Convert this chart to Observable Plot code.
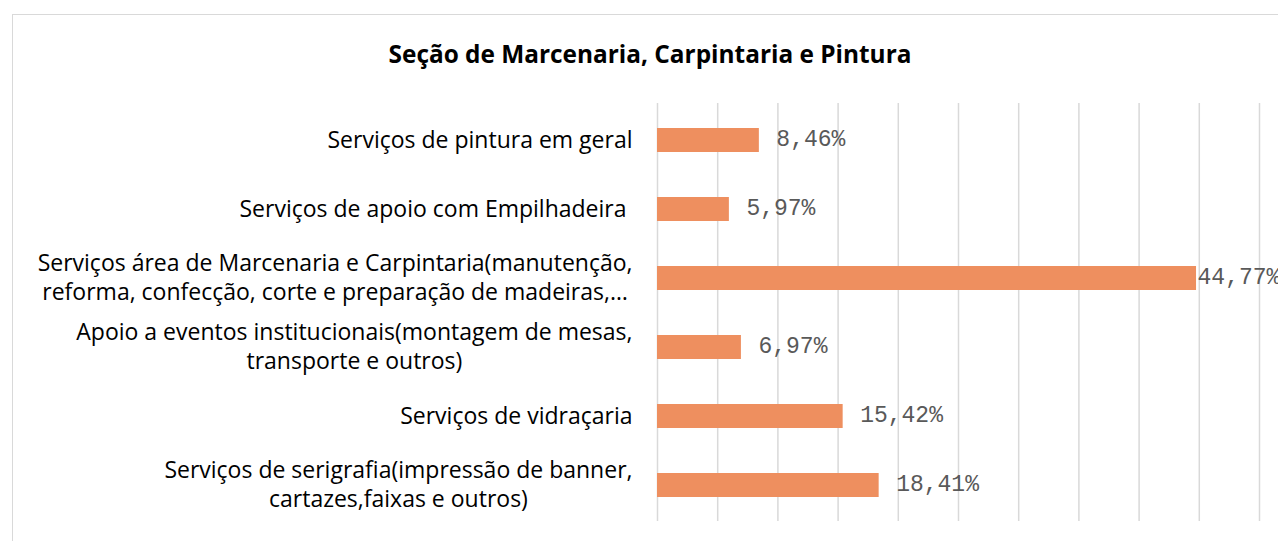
<!DOCTYPE html>
<html>
<head>
<meta charset="utf-8">
<script src="https://cdn.jsdelivr.net/npm/d3@7"></script>
<script src="https://cdn.jsdelivr.net/npm/@observablehq/plot@0.6"></script>
<style>
  html, body { margin: 0; padding: 0; background: #fff; overflow: hidden; }
  #frame { position: absolute; left: 12px; top: 14px; width: 1300px; height: 600px; border: 1px solid #d9d9d9; box-sizing: border-box; }
  #title { position: absolute; left: 0; top: 39px; width: 1300px; height: 30px; line-height: 30px; text-align: center;
           font-family: "Open Sans", Lato, sans-serif; font-weight: bold; font-size: 24.4px; color: #000; }
  #chart { position: absolute; left: 13px; top: 90px; }
  #chart svg { overflow: visible; }
</style>
</head>
<body>
<div id="frame"></div>
<div id="title">Seção de Marcenaria, Carpintaria e Pintura</div>
<div id="chart"></div>
<script>
const categories = [
  "Serviços de pintura em geral",
  "Serviços de apoio com Empilhadeira ",
  "Serviços área de Marcenaria e Carpintaria(manutenção,\nreforma, confecção, corte e preparação de madeiras,…",
  "Apoio a eventos institucionais(montagem de mesas,\ntransporte e outros)",
  "Serviços de vidraçaria",
  "Serviços de serigrafia(impressão de banner,\ncartazes,faixas e outros)"
];
const values = [8.46, 5.97, 44.77, 6.97, 15.42, 18.41];
const gridTicks = [0, 5, 10, 15, 20, 25, 30, 35, 40, 45, 50];

const data = categories.map((c, i) => ({category: c, value: values[i]}));
const fmt = v => v.toFixed(2).replace(".", ",") + "%";
const monoFont = "Liberation Mono, DejaVu Sans Mono, monospace";

const plot = Plot.plot({
  width: 1265,
  height: 451,
  marginLeft: 644,
  marginRight: 19,
  marginTop: 13,
  marginBottom: 20,
  style: { background: "transparent", overflow: "visible" },
  x: { domain: [0, 50], axis: null },
  y: { domain: categories, paddingInner: 0.655, paddingOuter: 0.3275, label: null },
  marks: [
    Plot.gridX(gridTicks, { stroke: "#d9d9d9", strokeOpacity: 1, strokeWidth: 1.5 }),
    Plot.barX(data, { x: "value", y: "category", fill: "#EE8F5F" }),
    Plot.text(data.filter(d => d.value < 40), {
      x: "value", y: "category", text: d => fmt(d.value), textAnchor: "start", dx: 17, dy: -2,
      fontFamily: monoFont, fontSize: 23, fill: "#595959"
    }),
    Plot.text(data.filter(d => d.value >= 40), {
      x: "value", y: "category", text: d => fmt(d.value), textAnchor: "start", dx: 1, dy: -2,
      fontFamily: monoFont, fontSize: 23, fill: "#595959"
    }),
    Plot.axisY({
      tickSize: 0, tickPadding: 25, fontSize: 23, label: null, dy: -2,
      fontFamily: "'Open Sans', Lato, sans-serif", fill: "#000", lineHeight: 1.26
    })
  ]
});
document.getElementById("chart").appendChild(plot);

// center the lines of wrapped labels within their block (as in the original)
plot.querySelectorAll('g[aria-label="y-axis tick label"] text').forEach(t => {
  t.style.whiteSpace = "pre";
  const spans = t.querySelectorAll("tspan");
  if (spans.length > 1) {
    let maxW = 0;
    spans.forEach(s => { maxW = Math.max(maxW, s.getComputedTextLength()); });
    t.setAttribute("text-anchor", "middle");
    spans.forEach(s => s.setAttribute("x", -maxW / 2));
  }
});
</script>
</body>
</html>
